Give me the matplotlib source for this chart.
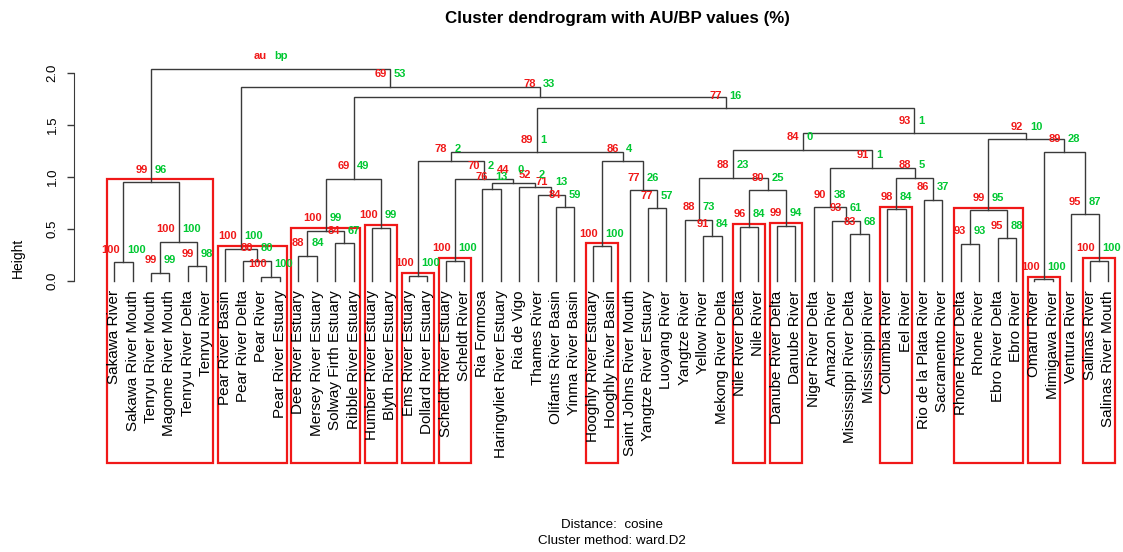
import matplotlib.pyplot as plt
from matplotlib.patches import Rectangle

plt.rcParams['font.family'] = ['Liberation Sans', 'DejaVu Sans']

leaf_labels = [
    "Sakawa River", "Sakawa River Mouth", "Tenryu River Mouth", "Magome River Mouth",
    "Tenryu River Delta", "Tenryu River", "Pear River Basin", "Pear River Delta",
    "Pear River", "Pear River Estuary", "Dee River Estuary", "Mersey River Estuary",
    "Solway Firth Estuary", "Ribble River Estuary", "Humber River Estuary",
    "Blyth River Estuary", "Ems River Estuary", "Dollard River Estuary",
    "Scheldt River Estuary", "Scheldt River", "Ria Formosa", "Haringvliet River Estuary",
    "Ria de Vigo", "Thames River", "Olifants River Basin", "Yinma River Basin",
    "Hooghly River Estuary", "Hooghly River Basin", "Saint Johns River Mouth",
    "Yangtze River Estuary", "Luoyang River", "Yangtze River", "Yellow River",
    "Mekong River Delta", "Nile River Delta", "Nile River", "Danube River Delta",
    "Danube River", "Niger River Delta", "Amazon River", "Mississippi River Delta",
    "Mississippi River", "Columbia River", "Eel River", "Rio de la Plata River",
    "Sacramento River", "Rhone River Delta", "Rhone River", "Ebro River Delta",
    "Ebro River", "Omaru River", "Mimigawa River", "Ventura River", "Salinas River",
    "Salinas River Mouth",
]

# hclust style merge table: negative = leaf number, positive = earlier merge row
merge_left = [-51, -9, -17, -3, -5, -1, -54, -19, -8, -11,
              -7, -27, -47, -13, 4, -49, -33, -41, 10, -15,
              -35, -37, -40, -32, -53, 13, -43, -30, -25, -39,
              -45, -24, -29, 21, -21, -23, 35, 6, 8, 19,
              24, 27, 30, 3, 12, 44, 1, 41, 26, 48,
              46, 40, 11, 38]
merge_right = [-52, -10, -18, -4, -6, -2, -55, -20, 2, -12,
               9, -28, -48, -14, 5, -50, -34, -42, 14, -16,
               -36, -38, 18, 17, 7, 16, -44, -31, -26, 23,
               -46, 29, 28, 22, -22, 32, 36, 15, 37, 20,
               34, 31, 42, 39, 33, 45, 25, 43, 47, 49,
               50, 51, 52, 53]
heights = [0.015, 0.04, 0.05, 0.08, 0.14, 0.18, 0.195, 0.195, 0.195, 0.24,
           0.31, 0.335, 0.355, 0.36, 0.375, 0.41, 0.43, 0.45, 0.48, 0.51,
           0.52, 0.53, 0.58, 0.59, 0.64, 0.68, 0.69, 0.70, 0.71, 0.71,
           0.78, 0.83, 0.87, 0.87, 0.88, 0.90, 0.946, 0.95, 0.98, 0.98,
           0.99, 0.99, 1.09, 1.15, 1.15, 1.237, 1.243, 1.26, 1.36, 1.42,
           1.66, 1.77, 1.865, 2.04]
# AU / BP (%) for every merge except the root
au = [100, 100, 100, 99, 99, 100, 100, 100, 80, 88,
      100, 100, 93, 84, 100, 95, 91, 83, 100, 100,
      96, 99, 93, 88, 95, 99, 98, 77, 84, 90,
      86, 71, 77, 80, 76, 52, 44, 99, 70, 69,
      88, 88, 91, 78, 86, 89, 89, 84, 92, 93,
      77, 78, 69]
bp = [100, 100, 100, 99, 98, 100, 100, 100, 80, 84,
      100, 100, 93, 67, 100, 88, 84, 68, 99, 99,
      84, 94, 61, 73, 87, 95, 84, 57, 59, 38,
      37, 13, 26, 25, 13, 2, 0, 96, 2, 49,
      23, 5, 1, 2, 4, 1, 28, 0, 10, 1,
      16, 33, 53]

RED = '#F01818'
GREEN = '#00C832'
LINE = '#3a3a3a'

fig = plt.figure(figsize=(11.23, 5.52), dpi=100)
ax = fig.add_axes([74 / 1123, 87 / 552, 1049 / 1123, 415 / 552])
ax.set_xlim(-1.19, 55.82)
ax.set_ylim(-1.77, 2.22)

node_x, node_y = [], []


def pos(k):
    if k < 0:
        return -k, 0.0
    return node_x[k - 1], node_y[k - 1]


for l, r, h in zip(merge_left, merge_right, heights):
    xl, yl = pos(l)
    xr, yr = pos(r)
    ax.plot([xl, xl, xr, xr], [yl, h, h, yr], color=LINE, lw=1.0,
            solid_joinstyle='miter', clip_on=False)
    node_x.append((xl + xr) / 2)
    node_y.append(h)

# au / bp labels
for i in range(len(au)):
    ax.text(node_x[i] - 0.2, node_y[i] + 0.12, str(au[i]), color=RED,
            ha='right', va='center', fontsize=8, fontweight='bold')
    ax.text(node_x[i] + 0.2, node_y[i] + 0.12, str(bp[i]), color=GREEN,
            ha='left', va='center', fontsize=8, fontweight='bold')

root = len(heights)
ax.text(node_x[-1] - 0.2, node_y[-1] + 0.12, "au", color=RED,
        ha='right', va='center', fontsize=8, fontweight='bold')
ax.text(node_x[-1] + 0.2, node_y[-1] + 0.12, "bp", color=GREEN,
        ha='left', va='center', fontsize=8, fontweight='bold')


# leaf labels
for i, name in enumerate(leaf_labels):
    ax.text(i + 1, -0.09, name, rotation=90, ha='center', va='top', fontsize=11)


# red boxes for clusters with au > 95 (largest ones only)
def members(k):
    if k < 0:
        return [-k]
    return members(merge_left[k - 1]) + members(merge_right[k - 1])


def boxes(k):
    if k < 0:
        return
    if au[k - 1] > 95:
        m = members(k)
        x0, x1 = min(m) - 0.37, max(m) + 0.37
        y0, y1 = -1.75, heights[k - 1] + 0.025
        ax.add_patch(Rectangle((x0, y0), x1 - x0, y1 - y0, fill=False,
                               edgecolor=RED, lw=1.6, clip_on=False))
    else:
        boxes(merge_left[k - 1])
        boxes(merge_right[k - 1])


boxes(merge_left[root - 1])
boxes(merge_right[root - 1])

for s in ['top', 'right', 'bottom']:
    ax.spines[s].set_visible(False)
ax.spines['left'].set_bounds(0, 2)
ax.spines['left'].set_color(LINE)
ax.set_xticks([])
ax.set_yticks([0, 0.5, 1.0, 1.5, 2.0])
ax.set_yticklabels(['0.0', '0.5', '1.0', '1.5', '2.0'], rotation=90, va='center')
ax.tick_params(axis='y', length=5, width=1, pad=6, labelsize=9.5, color=LINE)

fig.text(0.016, 1 - 258 / 552, "Height", rotation=90, ha='center', va='center', fontsize=10)
fig.text(0.55, 1 - 18 / 552, "Cluster dendrogram with AU/BP values (%)",
         ha='center', va='center', fontsize=12.2, fontweight='bold')
fig.text(0.545, 1 - 525 / 552, "Distance:  cosine", ha='center', va='center', fontsize=9.6)
fig.text(0.545, 1 - 541 / 552, "Cluster method: ward.D2", ha='center', va='center', fontsize=9.6)

fig.savefig('out.png', dpi=100)
